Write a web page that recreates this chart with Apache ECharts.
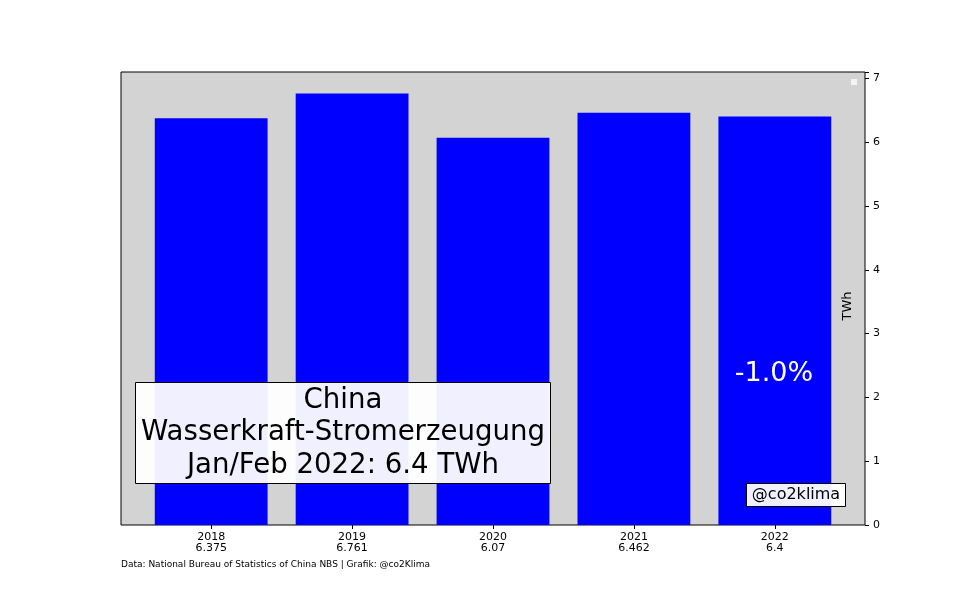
<!DOCTYPE html>
<html><head><meta charset="utf-8">
<script src="https://cdn.jsdelivr.net/npm/echarts@6/dist/echarts.min.js"></script>
<style>html,body{margin:0;padding:0;background:#fff}#c{width:960px;height:600px}</style>
</head><body><div id="c"></div>
<script>
const years = ['2018','2019','2020','2021','2022'];
const values = [6.375, 6.761, 6.07, 6.462, 6.4];
const valueLabels = ['6.375','6.761','6.07','6.462','6.4'];
const yTicks = [0,1,2,3,4,5,6,7];
const titleLines = ['China','Wasserkraft-Stromerzeugung','Jan/Feb 2022: 6.4 TWh'];
const changeText = '-1.0%';
const credit = '@co2klima';
const source = 'Data: National Bureau of Statistics of China NBS | Grafik: @co2Klima';
const unit = 'TWh';

const font = 'DejaVu Sans';
const chart = echarts.init(document.getElementById('c'), null, {renderer:'canvas'});
const yMax = Math.max(...values) * 1.05;
chart.setOption({
  animation:false,
  textStyle:{fontFamily:font},
  grid:{left:121, right:95, top:72, bottom:75, show:true, backgroundColor:'#d3d3d3', borderColor:'#000', borderWidth:1},
  xAxis:{type:'value', min:-0.64, max:4.64,
    axisLine:{show:false, onZero:false}, splitLine:{show:false},
    axisTick:{show:true, customValues:[0,1,2,3,4], length:4, lineStyle:{color:'#000'}},
    axisLabel:{show:true, customValues:[0,1,2,3,4], color:'#000', fontSize:11, lineHeight:11, margin:7,
      formatter:v=>{const i=Math.round(v); return years[i]+'\n'+valueLabels[i];}}
  },
  yAxis:{type:'value', position:'right', min:0, max:yMax, interval:1,
    axisLine:{show:false, onZero:false}, splitLine:{show:false},
    axisTick:{show:true, length:4, lineStyle:{color:'#000'}},
    axisLabel:{color:'#000', fontSize:11, margin:8, formatter:v=>yTicks.includes(v)?String(v):''}
  },
  series:[{type:'bar', data:values.map((v,i)=>[i,v]), barWidth:112.8, itemStyle:{color:'#0000ff'}, z:2}],
  graphic:[
    {type:'rect', shape:{x:851, y:79, width:6, height:6}, style:{fill:'#f4f4f4'}, z:10},
    {type:'text', x:848, y:306, rotation:Math.PI/2, style:{text:unit, font:'13px '+font, fill:'#000', align:'center', verticalAlign:'middle'}, z:10},
    {type:'text', x:774, y:374, style:{text:changeText, font:'27px '+font, fill:'#fff', align:'center', verticalAlign:'middle'}, z:10},
    {type:'rect', shape:{x:135.5, y:382.5, width:415, height:101}, style:{fill:'rgba(255,255,255,0.94)', stroke:'#000', lineWidth:1}, z:10},
    {type:'text', x:343, y:433, style:{text:titleLines.join('\n'), font:'27.6px '+font, lineHeight:32.5, fill:'#000', align:'center', verticalAlign:'middle'}, z:11},
    {type:'rect', shape:{x:746.5, y:483.5, width:99, height:23}, style:{fill:'rgba(255,255,255,0.94)', stroke:'#000', lineWidth:1}, z:10},
    {type:'text', x:796, y:495, style:{text:credit, font:'16px '+font, fill:'#000', align:'center', verticalAlign:'middle'}, z:11},
    {type:'text', x:121, y:565, style:{text:source, font:'9px '+font, fill:'#000', align:'left', verticalAlign:'middle'}, z:10}
  ]
});
</script></body></html>
